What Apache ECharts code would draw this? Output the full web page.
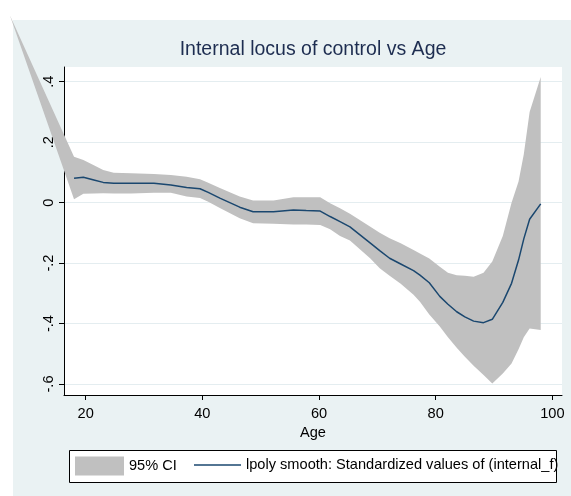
<!DOCTYPE html>
<html>
<head>
<meta charset="utf-8">
<script src="https://cdn.jsdelivr.net/npm/echarts@6/dist/echarts.min.js"></script>
<style>
  html, body { margin: 0; padding: 0; background: #fff; }
  #chart { width: 571px; height: 496px; }
</style>
</head>
<body>
<div id="chart"></div>
<script>
// ages where the lpoly smooth was evaluated
const ages = [18.0, 19.6, 21.4, 23.0, 24.8, 27.8, 31.7, 34.6, 37.3, 39.6, 41.0, 43.0, 46.4, 48.7, 52.2, 55.6, 57.8, 60.2, 61.9, 63.6, 65.3, 68.8, 70.4, 72.1, 74.0, 76.2, 77.3, 78.9, 80.7, 82.1, 83.6, 85.0, 86.5, 88.2, 89.7, 91.5, 93.0, 94.2, 95.1, 96.1, 98.0]
const smoothed = [0.081, 0.084, 0.075, 0.067, 0.064, 0.064, 0.064, 0.058, 0.050, 0.046, 0.034, 0.015, -0.015, -0.030, -0.030, -0.024, -0.026, -0.028, -0.046, -0.063, -0.080, -0.134, -0.159, -0.184, -0.203, -0.225, -0.240, -0.265, -0.310, -0.336, -0.361, -0.378, -0.392, -0.397, -0.386, -0.330, -0.267, -0.190, -0.120, -0.055, -0.004]

// 95% CI, first point is the stray vertex Stata draws outside the plot
const ciAges = [7.0].concat(ages)
const ciLower = [0.62, 0.011, 0.029, 0.030, 0.031, 0.030, 0.030, 0.033, 0.033, 0.020, 0.015, 0.003, -0.018, -0.052, -0.068, -0.070, -0.072, -0.072, -0.074, -0.088, -0.110, -0.125, -0.185, -0.217, -0.242, -0.268, -0.305, -0.328, -0.370, -0.410, -0.445, -0.480, -0.510, -0.540, -0.570, -0.598, -0.565, -0.532, -0.485, -0.445, -0.416, -0.421]
const ciUpper = [0.62, 0.152, 0.141, 0.124, 0.108, 0.099, 0.097, 0.095, 0.091, 0.086, 0.077, 0.066, 0.048, 0.020, 0.007, 0.007, 0.018, 0.018, 0.018, -0.002, -0.019, -0.037, -0.080, -0.100, -0.118, -0.134, -0.157, -0.168, -0.185, -0.212, -0.232, -0.240, -0.242, -0.245, -0.232, -0.195, -0.110, 0.000, 0.070, 0.160, 0.300, 0.416]

const xTicks = [20, 40, 60, 80, 100]
const yTicks = [-0.6, -0.4, -0.2, 0, 0.2, 0.4]

const font = 'Liberation Sans, Arial, sans-serif'
const lineName = 'lpoly smooth: Standardized values of (internal_f)'

const chart = echarts.init(document.getElementById('chart'), null, { width: 571, height: 496 })

const ciData = ciAges.map((a, i) => [a, ciLower[i], ciUpper[i]])

chart.setOption({
  animation: false,
  graphic: [
    { type: 'rect', z: -10, shape: { x: 13, y: 20, width: 558, height: 476 }, style: { fill: '#EAF2F3' } },
    { type: 'rect', z: 1, shape: { x: 69.5, y: 450.5, width: 487, height: 32 }, style: { fill: '#fff', stroke: '#000', lineWidth: 1 } }
  ],
  title: {
    text: 'Internal locus of control vs Age',
    left: 313,
    top: 40,
    textAlign: 'center',
    padding: 0,
    textStyle: { fontFamily: font, fontSize: 19.5, fontWeight: 'normal', color: '#1D2D50' }
  },
  legend: [
    {
      data: [{ name: '95% CI', icon: 'rect' }],
      left: 75, top: 456.5, padding: 0,
      itemWidth: 49, itemHeight: 19,
      textStyle: { fontFamily: font, fontSize: 14.6, color: '#000' }
    },
    {
      data: [{ name: lineName, icon: 'rect', itemStyle: { color: '#1A476F' } }],
      left: 194, top: 457.5, padding: 0,
      itemWidth: 47, itemHeight: 1.5,
      textStyle: { fontFamily: font, fontSize: 14.6, color: '#000' }
    }
  ],
  grid: { left: 64, right: 9, top: 67, bottom: 101, show: true, backgroundColor: '#fff', borderWidth: 0 },
  xAxis: {
    type: 'value',
    min: 16.28, max: 101.65,
    name: 'Age', nameLocation: 'middle', nameGap: 27,
    nameTextStyle: { fontFamily: font, fontSize: 14.6, color: '#000' },
    axisLine: { show: true, onZero: false, lineStyle: { color: '#000', width: 1 } },
    axisTick: { show: true, length: 5, customValues: xTicks, lineStyle: { color: '#000' } },
    axisLabel: { customValues: xTicks, margin: 11, fontFamily: font, fontSize: 14.6, color: '#000' },
    splitLine: { show: false }
  },
  yAxis: {
    type: 'value',
    min: -0.6364, max: 0.4487,
    axisLine: { show: true, lineStyle: { color: '#000', width: 1 } },
    axisTick: { show: true, length: 5, customValues: yTicks, lineStyle: { color: '#000' } },
    axisLabel: {
      customValues: yTicks, rotate: 90, margin: 8,
      fontFamily: font, fontSize: 14.6, color: '#000',
      formatter: v => v === 0 ? '0' : String(v).replace('0.', '.')
    },
    splitLine: { show: true, lineStyle: { color: '#E4EDF0', width: 1 } }
  },
  series: [
    {
      name: '95% CI',
      type: 'custom',
      clip: false,
      itemStyle: { color: '#C0C0C0' },
      data: ciData,
      encode: { x: 0, y: [1, 2] },
      renderItem: (params, api) => {
        if (params.dataIndex !== 0) return null
        const upper = ciData.map(d => api.coord([d[0], d[2]]))
        const lower = ciData.map(d => api.coord([d[0], d[1]])).reverse()
        return {
          type: 'polygon',
          shape: { points: upper.concat(lower) },
          style: { fill: '#C0C0C0', stroke: 'none' }
        }
      }
    },
    {
      name: lineName,
      type: 'line',
      symbol: 'none',
      data: ages.map((a, i) => [a, smoothed[i]]),
      lineStyle: { color: '#1A476F', width: 1.5 },
      itemStyle: { color: '#1A476F' },
      z: 3
    }
  ]
})
</script>
</body>
</html>
